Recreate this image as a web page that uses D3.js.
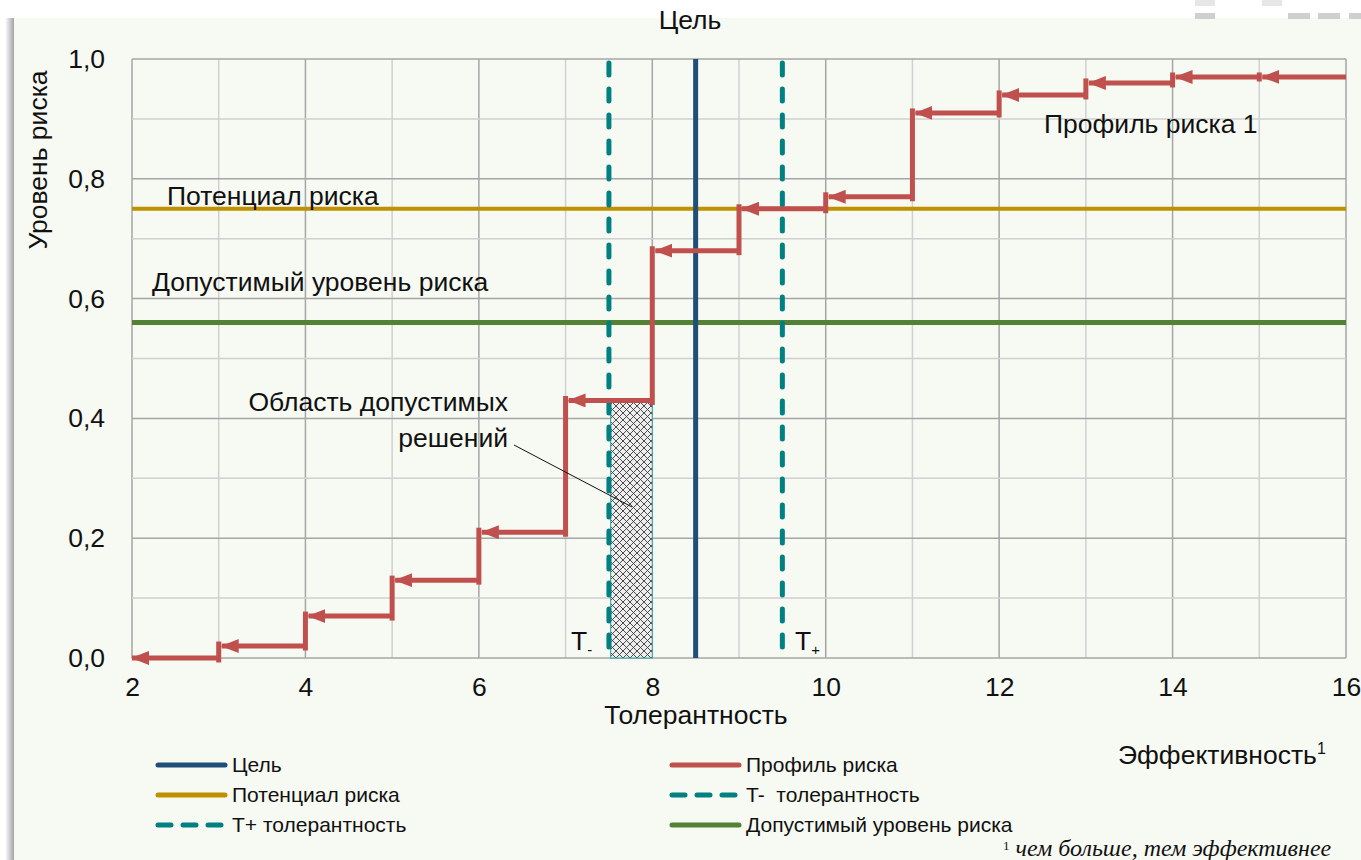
<!DOCTYPE html>
<html>
<head>
<meta charset="utf-8">
<script src="https://cdn.jsdelivr.net/npm/d3@7"></script>
<style>
  html, body { margin: 0; padding: 0; background: #ffffff; }
  svg { display: block; font-family: "Liberation Sans", Arial, sans-serif; }
</style>
</head>
<body>
<div id="chart"></div>
<script>
// chart values
const xTicks = [2, 4, 6, 8, 10, 12, 14, 16];
const yTicks = [0, 0.2, 0.4, 0.6, 0.8, 1.0];
const stepLeft = [2, 3, 4, 5, 6, 7, 8, 9, 10, 11, 12, 13, 14, 15];
const stepRisk = [0, 0.02, 0.07, 0.13, 0.21, 0.43, 0.68, 0.75, 0.77, 0.91, 0.94, 0.96, 0.97, 0.97];
const targetX = 8.5;
const tMinusX = 7.5;
const tPlusX = 9.5;
const riskPotential = 0.75;
const riskAcceptable = 0.56;
const zoneX = [7.52, 8.0];
const zoneTop = 0.43;
const legendItems = [
  { label: 'Цель', color: '#1f4e79', dash: null },
  { label: 'Профиль риска', color: '#c0504d', dash: null },
  { label: 'Потенциал риска', color: '#bf9000', dash: null },
  { label: 'T-\u00a0 толерантность', color: '#008080', dash: '13 12' },
  { label: 'T+ толерантность', color: '#008080', dash: '13 12' },
  { label: 'Допустимый уровень риска', color: '#548235', dash: null }
];

const w = 1361;
const h = 860;
const plotL = 132, plotR = 1346, plotT = 59, plotB = 658;
const fs = 26.5;

const svg = d3.select('#chart')
              .append('svg')
              .attr('width', w)
              .attr('height', h);

const defs = svg.append('defs');

const shade = defs.append('linearGradient')
                  .attr('id', 'shade')
                  .attr('x1', 0).attr('x2', 1).attr('y1', 0).attr('y2', 0);
shade.append('stop').attr('offset', '0%').attr('stop-color', '#ffffff');
shade.append('stop').attr('offset', '100%').attr('stop-color', '#9a9a9a');

const hatch = defs.append('pattern')
                  .attr('id', 'hatch')
                  .attr('patternUnits', 'userSpaceOnUse')
                  .attr('width', 7)
                  .attr('height', 7);
hatch.append('rect').attr('width', 7).attr('height', 7).attr('fill', '#eeeeee');
hatch.append('path')
     .attr('d', 'M0,0 L7,7 M7,0 L0,7')
     .attr('stroke', '#3a3a3a')
     .attr('stroke-width', 0.9);

defs.append('marker')
    .attr('id', 'arrow')
    .attr('markerUnits', 'userSpaceOnUse')
    .attr('viewBox', '0 0 18 14')
    .attr('refX', 17)
    .attr('refY', 7)
    .attr('markerWidth', 18)
    .attr('markerHeight', 14)
    .attr('orient', 'auto')
    .append('path')
    .attr('d', 'M0,0 L18,7 L0,14 Z')
    .attr('fill', '#c0504d');

// card background
svg.append('rect')
   .attr('x', 5).attr('y', 18).attr('width', 10).attr('height', h - 18)
   .attr('fill', 'url(#shade)');
svg.append('rect')
   .attr('x', 14).attr('y', 18).attr('width', w - 14).attr('height', h - 18)
   .attr('fill', '#f7f9f3');
[[1195, 13, 20], [1288, 13, 22], [1318, 13, 22], [1349, 13, 12], [1195, 0, 20], [1262, 0, 20]]
  .forEach(r => svg.append('rect')
    .attr('x', r[0]).attr('y', r[1]).attr('width', r[2]).attr('height', 6)
    .attr('fill', r[1] === 0 ? '#e6e6e6' : '#cfcfcf'));

const xScale = d3.scaleLinear().domain([2, 16]).range([plotL, plotR]);
const yScale = d3.scaleLinear().domain([0, 1]).range([plotB, plotT]);

// grid
const grid = svg.append('g');
d3.range(2, 17).forEach(v => {
  grid.append('line')
      .attr('x1', xScale(v)).attr('x2', xScale(v))
      .attr('y1', plotT).attr('y2', plotB)
      .attr('stroke', v % 2 === 0 ? '#a6a6a6' : '#d0d0d0')
      .attr('stroke-width', 1.5);
});
d3.range(0, 11).forEach(i => {
  grid.append('line')
      .attr('x1', plotL).attr('x2', plotR)
      .attr('y1', yScale(i / 10)).attr('y2', yScale(i / 10))
      .attr('stroke', i % 2 === 0 ? '#a6a6a6' : '#d0d0d0')
      .attr('stroke-width', 1.5);
});

// axes labels
const fmt = d => d3.format('.1f')(d).replace('.', ',');
svg.append('g')
   .attr('transform', 'translate(' + (plotL - 24) + ',0)')
   .call(d3.axisLeft(yScale).tickValues(yTicks).tickFormat(fmt).tickSize(0))
   .call(g => g.select('.domain').remove())
   .call(g => g.selectAll('text').attr('font-size', fs).attr('fill', '#111')
                .attr('font-family', '"Liberation Sans", Arial, sans-serif'));
svg.append('g')
   .attr('transform', 'translate(0,' + (plotB + 16) + ')')
   .call(d3.axisBottom(xScale).tickValues(xTicks).tickFormat(d3.format('d')).tickSize(0))
   .call(g => g.select('.domain').remove())
   .call(g => g.selectAll('text').attr('font-size', fs).attr('fill', '#111')
                .attr('font-family', '"Liberation Sans", Arial, sans-serif'));

// acceptable zone
svg.append('rect')
   .attr('x', xScale(zoneX[0]))
   .attr('y', yScale(zoneTop))
   .attr('width', xScale(zoneX[1]) - xScale(zoneX[0]))
   .attr('height', yScale(0) - yScale(zoneTop))
   .attr('fill', 'url(#hatch)')
   .attr('stroke', '#2aa3a3')
   .attr('stroke-width', 1);

// horizontal reference lines
svg.append('line')
   .attr('x1', plotL).attr('x2', plotR)
   .attr('y1', yScale(riskPotential)).attr('y2', yScale(riskPotential))
   .attr('stroke', '#bf9000').attr('stroke-width', 4);
svg.append('line')
   .attr('x1', plotL).attr('x2', plotR)
   .attr('y1', yScale(riskAcceptable)).attr('y2', yScale(riskAcceptable))
   .attr('stroke', '#548235').attr('stroke-width', 5);

// vertical reference lines
svg.append('line')
   .attr('x1', xScale(targetX)).attr('x2', xScale(targetX))
   .attr('y1', plotT).attr('y2', plotB)
   .attr('stroke', '#1f4e79').attr('stroke-width', 5);
[tMinusX, tPlusX].forEach(v => {
  svg.append('line')
     .attr('x1', xScale(v)).attr('x2', xScale(v))
     .attr('y1', plotT + 4).attr('y2', plotB)
     .attr('stroke', '#008080').attr('stroke-width', 5)
     .attr('stroke-dasharray', '12 14')
     .attr('stroke-linecap', 'round');
});

// risk profile steps
const steps = svg.append('g');
stepLeft.forEach((x0, i) => {
  if (i < stepLeft.length - 1) {
    steps.append('line')
         .attr('x1', xScale(x0 + 1)).attr('x2', xScale(x0 + 1))
         .attr('y1', yScale(stepRisk[i]) + 2).attr('y2', yScale(stepRisk[i + 1]) - 2)
         .attr('stroke', '#c0504d').attr('stroke-width', 5)
         .attr('stroke-linecap', 'square');
  }
  steps.append('line')
       .attr('x1', xScale(x0 + 1)).attr('x2', xScale(x0) + (i === 0 ? 0 : 3))
       .attr('y1', yScale(stepRisk[i])).attr('y2', yScale(stepRisk[i]))
       .attr('stroke', '#c0504d').attr('stroke-width', 5)
       .attr('marker-end', 'url(#arrow)');
});

// annotations
const txt = (x, y, s, size, anchor) => svg.append('text')
  .attr('x', x).attr('y', y).attr('font-size', size)
  .attr('text-anchor', anchor || 'start').attr('fill', '#111').text(s);

txt(690, 29, 'Цель', fs, 'middle');
txt(167, 205, 'Потенциал риска', fs);
txt(152, 291, 'Допустимый уровень риска', fs);
txt(1044, 133, 'Профиль риска 1', fs);
txt(508, 411, 'Область допустимых', fs, 'end');
txt(508, 447, 'решений', fs, 'end');
txt(696, 724, 'Толерантность', fs, 'middle');

svg.append('line')
   .attr('x1', 514).attr('y1', 445).attr('x2', 632).attr('y2', 507)
   .attr('stroke', '#111').attr('stroke-width', 1);

const tm = txt(571, 650, 'T', fs);
tm.append('tspan').attr('font-size', 15).attr('dy', 5).text('-');
const tp = txt(795, 650, 'T', fs);
tp.append('tspan').attr('font-size', 15).attr('dy', 5).text('+');

const eff = txt(1118, 764, 'Эффективность', fs);
eff.append('tspan').attr('font-size', 16).attr('dy', -10).text('1');

svg.append('text')
   .attr('x', 38).attr('y', 160)
   .attr('transform', 'rotate(-90,38,160)')
   .attr('dy', 9)
   .attr('text-anchor', 'middle')
   .attr('font-size', fs)
   .attr('fill', '#111')
   .text('Уровень риска');

// legend
const legend = svg.append('g');
legendItems.forEach((d, i) => {
  const col = i % 2, row = Math.floor(i / 2);
  const lx = col === 0 ? 158 : 672;
  const ly = 765 + row * 30;
  legend.append('line')
        .attr('x1', lx).attr('x2', lx + 67)
        .attr('y1', ly).attr('y2', ly)
        .attr('stroke', d.color).attr('stroke-width', 5)
        .attr('stroke-linecap', 'round')
        .attr('stroke-dasharray', d.dash);
  legend.append('text')
        .attr('x', lx + 74).attr('y', ly + 7)
        .attr('font-size', 21).attr('fill', '#111')
        .text(d.label);
});

// footnote
const foot = svg.append('text')
   .attr('x', 1003).attr('y', 856)
   .attr('font-family', '"Liberation Serif", "Times New Roman", serif')
   .attr('font-size', 24).attr('fill', '#111');
foot.append('tspan').attr('font-size', 13).attr('dy', -6).text('1');
foot.append('tspan').attr('dy', 6).attr('font-style', 'italic').text(' чем больше, тем эффективнее');
</script>
</body>
</html>
